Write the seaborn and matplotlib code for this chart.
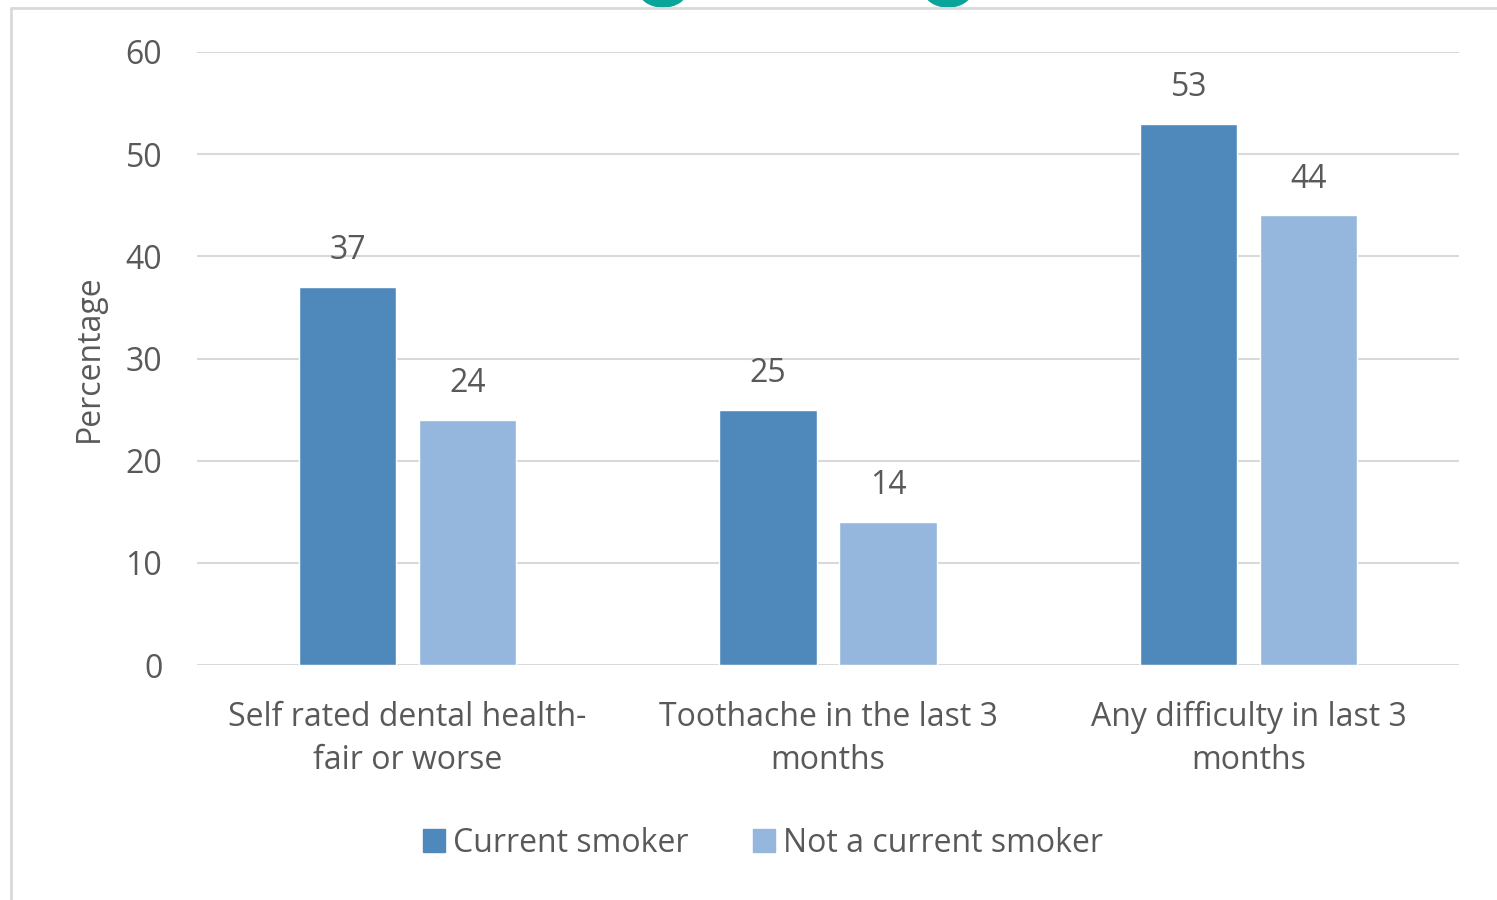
import matplotlib
matplotlib.use("Agg")
import matplotlib.pyplot as plt
from matplotlib.patches import Ellipse
from matplotlib.lines import Line2D
import seaborn as sns
import pandas as pd

categories = ["Self rated dental health-\nfair or worse",
              "Toothache in the last 3\nmonths",
              "Any difficulty in last 3\nmonths"]
groups = ["Current smoker", "Not a current smoker"]
current_smoker = [37, 25, 53]
not_current_smoker = [24, 14, 44]
y_ticks = [0, 10, 20, 30, 40, 50, 60]

colors = {"Current smoker": "#4f89bc", "Not a current smoker": "#95b7de"}
text_color = "#595959"
grid_color = "#d9d9d9"
fs = 23

df = pd.DataFrame({
    "category": categories * 2,
    "group": [groups[0]] * 3 + [groups[1]] * 3,
    "value": current_smoker + not_current_smoker,
})

sns.set_theme(style="white")
plt.rcParams["font.family"] = ["Open Sans", "DejaVu Sans"]

W, H = 1497, 900
fig = plt.figure(figsize=(W / 100, H / 100), dpi=100)
ax = fig.add_axes([197 / W, 1 - 665 / H, (1459 - 197) / W, (665 - 52) / H])

sns.barplot(data=df, x="category", y="value", hue="group", order=categories,
            hue_order=groups, palette=colors, width=0.57, gap=0.19,
            saturation=1, ax=ax, legend=False)

ax.set_xlim(-0.5, 2.5)
ax.set_ylim(0, 60)
ax.set_yticks(y_ticks)
ax.set_yticklabels([str(t) for t in y_ticks])
ax.yaxis.grid(True, color=grid_color, linewidth=1.5)
ax.set_axisbelow(True)
for s in ax.spines.values():
    s.set_visible(False)
ax.tick_params(axis="y", length=0, pad=25, labelsize=fs, labelcolor=text_color)
ax.tick_params(axis="x", length=0, pad=26, labelsize=fs, labelcolor=text_color)
for lbl in ax.get_xticklabels():
    lbl.set_linespacing(1.4)
ax.set_xlabel("")
ax.set_ylabel("Percentage", fontsize=fs, color=text_color, labelpad=14)

for cont in ax.containers:
    for bar in cont:
        h = bar.get_height()
        ax.annotate(f"{h:.0f}", (bar.get_x() + bar.get_width() / 2, h),
                    xytext=(0, 26), textcoords="offset points",
                    ha="center", va="center", fontsize=fs, color=text_color)

handles = [plt.Rectangle((0, 0), 1, 1, color=colors[g]) for g in groups]
fig.legend(handles, groups, loc="center", bbox_to_anchor=(763 / W, 1 - 843 / H),
           ncol=2, frameon=False, fontsize=fs, labelcolor=text_color,
           handlelength=0.7, handleheight=0.7, handletextpad=0.25,
           columnspacing=2.0)

# chart frame and the decorative tabs above it
fig.add_artist(Line2D([11 / W, 11 / W], [0, 1 - 8 / H], transform=fig.transFigure,
                      color=grid_color, linewidth=2))
fig.add_artist(Line2D([11 / W, 1], [1 - 8 / H, 1 - 8 / H], transform=fig.transFigure,
                      color=grid_color, linewidth=2))
for cx in (663, 948):
    e = Ellipse((cx / W, 1 + 10 / H), 48 / W, 34 / H, transform=fig.transFigure,
                color="#0aa59a", zorder=0)
    fig.add_artist(e)

fig.savefig("out.png", dpi=100)
